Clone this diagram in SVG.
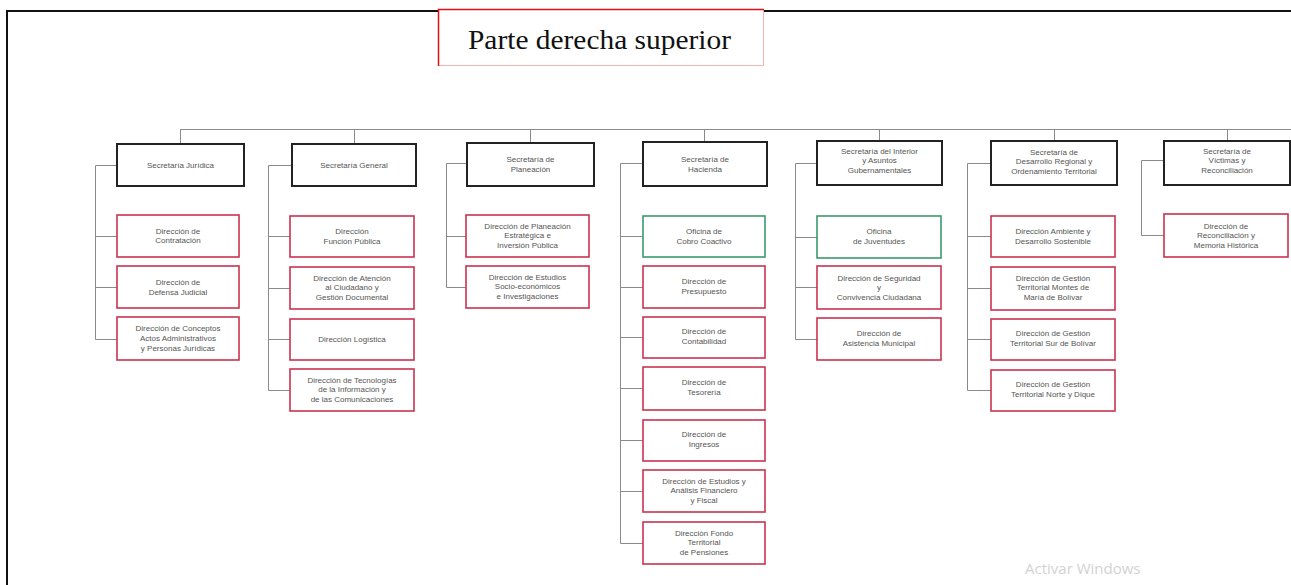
<svg xmlns="http://www.w3.org/2000/svg" width="1291" height="585" viewBox="0 0 1291 585">
<style>
.top{fill:#fff;stroke:#222;stroke-width:2}
.red{fill:#fff;stroke:#c9344f;stroke-width:1.6}
.grn{fill:#fff;stroke:#3a9a6e;stroke-width:1.6}
.t{font-family:"Liberation Sans",Arial,sans-serif;font-size:8px;fill:#555;text-anchor:middle}
.c{fill:none;stroke:#8a8a8a;stroke-width:1}
</style>
<rect x="0" y="0" width="1291" height="585" fill="#fff"/>
<g id="frame">
<path d="M7 585 V11 H1291" fill="none" stroke="#111" stroke-width="2"/>
</g>
<g id="title">
<rect x="438.5" y="9.5" width="325" height="56" fill="#fff" stroke="#f4b6b6" stroke-width="1"/>
<path d="M438.5 66 V9.5 H764" fill="none" stroke="#e01010" stroke-width="1.5"/>
<text x="468" y="49" font-family="'Liberation Serif','Times New Roman',serif" font-size="27" textLength="263" lengthAdjust="spacingAndGlyphs" fill="#111">Parte derecha superior</text>
</g>
<g id="connectors">
<path class="c" d="M180 129.5 H1291"/>
<path class="c" d="M180.5 129 V143 M354.5 129 V143 M530.5 129 V143 M704.5 129 V141 M879.5 129 V141 M1054.5 129 V141 M1227.5 129 V141"/>
<path class="c" d="M117 165.5 H95.5 V339.5 H117 M95 236.5 H117 M95 287.5 H117"/>
<path class="c" d="M292 165.5 H268.5 V390.5 H290 M268 236.5 H290 M268 288.5 H290 M268 339.5 H290"/>
<path class="c" d="M467 163.5 H446.5 V287.5 H466 M446 236.5 H466"/>
<path class="c" d="M643 163.5 H620.5 V543.5 H643 M620 236.5 H643 M620 287.5 H643 M620 337.5 H643 M620 388.5 H643 M620 440.5 H643 M620 491.5 H643"/>
<path class="c" d="M817 163.5 H795.5 V339.5 H817 M795 237.5 H817 M795 287.5 H817"/>
<path class="c" d="M991 163.5 H967.5 V390.5 H991 M967 236.5 H991 M967 288.5 H991 M967 339.5 H991"/>
<path class="c" d="M1164 160.5 H1141.5 V235.5 H1164"/>
</g>
<g id="n-juridica"><rect class="top" x="117" y="144" width="127" height="42"/><text class="t" x="180.5" y="168">Secretaría Jurídica</text></g>
<g id="n-contratacion"><rect class="red" x="117" y="215" width="122" height="42"/><text class="t" x="178" y="234">Dirección de</text><text class="t" x="178" y="243">Contratación</text></g>
<g id="n-defensa"><rect class="red" x="117" y="266" width="122" height="42"/><text class="t" x="178" y="285">Dirección de</text><text class="t" x="178" y="295">Defensa Judicial</text></g>
<g id="n-conceptos"><rect class="red" x="117" y="317" width="122" height="43"/><text class="t" x="178" y="331">Dirección de Conceptos</text><text class="t" x="178" y="341">Actos Administrativos</text><text class="t" x="178" y="351">y Personas Jurídicas</text></g>

<g id="n-general"><rect class="top" x="292" y="144" width="124" height="42"/><text class="t" x="354" y="168">Secretaría General</text></g>
<g id="n-funcion"><rect class="red" x="290" y="216" width="124" height="41"/><text class="t" x="352" y="234">Dirección</text><text class="t" x="352" y="244">Función Pública</text></g>
<g id="n-atencion"><rect class="red" x="290" y="267" width="124" height="42"/><text class="t" x="352" y="281">Dirección de Atención</text><text class="t" x="352" y="290">al Ciudadano y</text><text class="t" x="352" y="300">Gestión Documental</text></g>
<g id="n-logistica"><rect class="red" x="290" y="319" width="124" height="41"/><text class="t" x="352" y="342">Dirección Logística</text></g>
<g id="n-tecnologias"><rect class="red" x="290" y="369" width="124" height="42"/><text class="t" x="352" y="383">Dirección de Tecnologías</text><text class="t" x="352" y="392">de la Información y</text><text class="t" x="352" y="402">de las Comunicaciones</text></g>

<g id="n-planeacion"><rect class="top" x="467" y="143" width="127" height="43"/><text class="t" x="530.5" y="162">Secretaría de</text><text class="t" x="530.5" y="172">Planeación</text></g>
<g id="n-estrategica"><rect class="red" x="466" y="215" width="123" height="42"/><text class="t" x="527.5" y="229">Dirección de Planeación</text><text class="t" x="527.5" y="238">Estratégica e</text><text class="t" x="527.5" y="248">Inversión Pública</text></g>
<g id="n-estudios"><rect class="red" x="466" y="266" width="123" height="42"/><text class="t" x="527.5" y="280">Dirección de Estudios</text><text class="t" x="527.5" y="289">Socio-económicos</text><text class="t" x="527.5" y="299">e Investigaciones</text></g>

<g id="n-hacienda"><rect class="top" x="643" y="142" width="124" height="44"/><text class="t" x="705" y="162">Secretaría de</text><text class="t" x="705" y="172">Hacienda</text></g>
<g id="n-cobro"><rect class="grn" x="643" y="216" width="122" height="41"/><text class="t" x="704" y="234">Oficina de</text><text class="t" x="704" y="244">Cobro Coactivo</text></g>
<g id="n-presupuesto"><rect class="red" x="643" y="266" width="122" height="42"/><text class="t" x="704" y="284">Dirección de</text><text class="t" x="704" y="294">Presupuesto</text></g>
<g id="n-contabilidad"><rect class="red" x="643" y="317" width="122" height="41"/><text class="t" x="704" y="334">Dirección de</text><text class="t" x="704" y="344">Contabilidad</text></g>
<g id="n-tesoreria"><rect class="red" x="643" y="367" width="122" height="43"/><text class="t" x="704" y="385">Dirección de</text><text class="t" x="704" y="395">Tesorería</text></g>
<g id="n-ingresos"><rect class="red" x="643" y="420" width="122" height="41"/><text class="t" x="704" y="437">Dirección de</text><text class="t" x="704" y="447">Ingresos</text></g>
<g id="n-analisis"><rect class="red" x="643" y="470" width="122" height="42"/><text class="t" x="704" y="484">Dirección de Estudios y</text><text class="t" x="704" y="493">Análisis Financiero</text><text class="t" x="704" y="503">y Fiscal</text></g>
<g id="n-pensiones"><rect class="red" x="643" y="522" width="122" height="42"/><text class="t" x="704" y="536">Dirección Fondo</text><text class="t" x="704" y="545">Territorial</text><text class="t" x="704" y="555">de Pensiones</text></g>

<g id="n-interior"><rect class="top" x="817" y="141" width="125" height="44"/><text class="t" x="879.5" y="154">Secretaría del Interior</text><text class="t" x="879.5" y="163">y Asuntos</text><text class="t" x="879.5" y="173">Gubernamentales</text></g>
<g id="n-juventudes"><rect class="grn" x="817" y="216" width="124" height="42"/><text class="t" x="879" y="234">Oficina</text><text class="t" x="879" y="244">de Juventudes</text></g>
<g id="n-seguridad"><rect class="red" x="817" y="266" width="124" height="43"/><text class="t" x="879" y="281">Dirección de Seguridad</text><text class="t" x="879" y="290">y</text><text class="t" x="879" y="300">Convivencia Ciudadana</text></g>
<g id="n-asistencia"><rect class="red" x="817" y="318" width="124" height="42"/><text class="t" x="879" y="336">Dirección de</text><text class="t" x="879" y="346">Asistencia Municipal</text></g>

<g id="n-desarrollo"><rect class="top" x="991" y="141" width="126" height="44"/><text class="t" x="1054" y="155">Secretaría de</text><text class="t" x="1054" y="164">Desarrollo Regional y</text><text class="t" x="1054" y="174">Ordenamiento Territorial</text></g>
<g id="n-ambiente"><rect class="red" x="991" y="216" width="124" height="41"/><text class="t" x="1053" y="234">Dirección Ambiente y</text><text class="t" x="1053" y="244">Desarrollo Sostenible</text></g>
<g id="n-montes"><rect class="red" x="991" y="267" width="124" height="43"/><text class="t" x="1053" y="281">Dirección de Gestión</text><text class="t" x="1053" y="290">Territorial Montes de</text><text class="t" x="1053" y="300">María de Bolívar</text></g>
<g id="n-sur"><rect class="red" x="991" y="319" width="124" height="41"/><text class="t" x="1053" y="336">Dirección de Gestión</text><text class="t" x="1053" y="346">Territorial Sur de Bolívar</text></g>
<g id="n-norte"><rect class="red" x="991" y="370" width="124" height="41"/><text class="t" x="1053" y="387">Dirección de Gestión</text><text class="t" x="1053" y="397">Territorial Norte y Dique</text></g>

<g id="n-victimas"><rect class="top" x="1164" y="141" width="126" height="44"/><text class="t" x="1227" y="154">Secretaría de</text><text class="t" x="1227" y="163">Víctimas y</text><text class="t" x="1227" y="173">Reconciliación</text></g>
<g id="n-memoria"><rect class="red" x="1164" y="214" width="124" height="43"/><text class="t" x="1226" y="229">Dirección de</text><text class="t" x="1226" y="238">Reconciliación y</text><text class="t" x="1226" y="248">Memoria Histórica</text></g>

<g id="watermark"><text x="1025" y="574" font-family="'Open Sans','Liberation Sans',sans-serif" font-size="15" fill="#d2d2d2">Activar Windows</text></g>
</svg>
